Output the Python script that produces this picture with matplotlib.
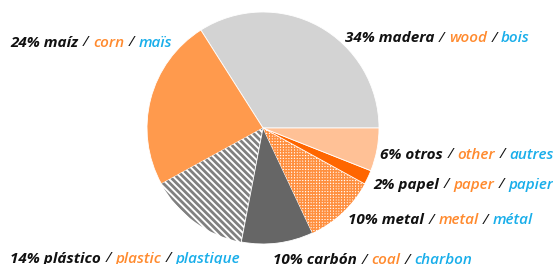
import matplotlib
matplotlib.use("Agg")
import matplotlib.pyplot as plt

# datos
shares = [34, 24, 14, 10, 10, 2, 6]
es_names = ["madera", "maíz", "plástico", "carbón", "metal", "papel", "otros"]
en_names = ["wood", "corn", "plastic", "coal", "metal", "paper", "other"]
fr_names = ["bois", "maïs", "plastique", "charbon", "métal", "papier", "autres"]

colors = ["#d3d3d3", "#ff9a4d", "white", "#666666", "white", "#ff6600", "#ffc196"]
hatches = [None, None, "\\\\\\\\\\", None, "++++++", None, None]
hatch_cols = [None, None, "#808080", None, "#ff9040", None, None]
hatch_lw = [0, 0, 2.0, 0, 1.1, 0, 0]

ORANGE = "#ff8a2e"
BLUE = "#19aeea"
FONT = "Open Sans"

fig = plt.figure(figsize=(5.53, 2.64), dpi=100)
ax = fig.add_axes([0, 0, 1, 1])

wedges, _ = ax.pie(shares, colors=colors, startangle=0, counterclock=True,
                   center=(263, 136), radius=116,
                   wedgeprops=dict(edgecolor="white", linewidth=0.6))
for w, h, hc, lw in zip(wedges, hatches, hatch_cols, hatch_lw):
    if h:
        w.set_hatch(h)
        w.set_edgecolor(hc)
        w.set_linewidth(0)
        if hasattr(w, "set_hatch_linewidth"):
            w.set_hatch_linewidth(lw)

ax.set_xlim(0, 553)
ax.set_ylim(0, 264)
ax.set_aspect("equal")
ax.axis("off")

fig.canvas.draw()
renderer = fig.canvas.get_renderer()


def label(i, x, y, ha="left"):
    parts = [(f"{shares[i]}% {es_names[i]}", "#111111", "bold"),
             ("/", "#111111", "normal"),
             (en_names[i], ORANGE, "semibold"),
             ("/", "#111111", "normal"),
             (fr_names[i], BLUE, "semibold")]
    gap = 4.5
    texts = []
    widths = []
    for s, c, wt in parts:
        t = ax.text(0, y, s, color=c, fontweight=wt, fontstyle="italic",
                    fontsize=11, family=FONT, va="center", ha="left")
        widths.append(t.get_window_extent(renderer).width)
        texts.append(t)
    total = sum(widths) + gap * (len(parts) - 1)
    cx = x - total if ha == "right" else x
    for t, wd in zip(texts, widths):
        t.set_x(cx)
        cx += wd + gap


label(1, 172, 221, ha="right")
label(0, 345, 226)
label(6, 380, 109)
label(5, 373, 79)
label(4, 348, 44)
label(2, 10, 5)
label(3, 273, 4)

fig.savefig("out.png", dpi=100)
